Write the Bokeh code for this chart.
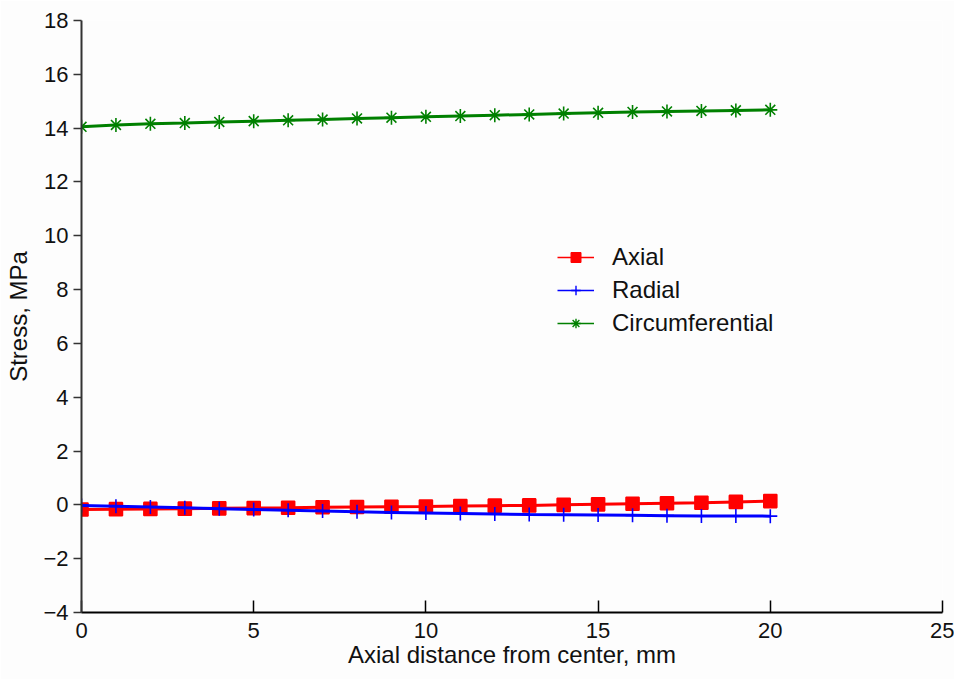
from bokeh.plotting import figure
from bokeh.models import Range1d, FixedTicker, Legend, LegendItem
from bokeh.embed import file_html
from bokeh.resources import INLINE

# Axial position along the specimen (mm)
distance_mm = [0, 1, 2, 3, 4, 5, 6, 7, 8, 9, 10, 11, 12, 13, 14, 15, 16, 17, 18, 19, 20]

# Stress components (MPa)
axial_stress = [-0.17, -0.16, -0.15, -0.14, -0.13, -0.12, -0.11, -0.09, -0.08, -0.07, -0.06,
                -0.04, -0.03, -0.02, 0.00, 0.02, 0.04, 0.06, 0.08, 0.11, 0.14]
radial_stress = [-0.02, -0.05, -0.08, -0.11, -0.14, -0.17, -0.20, -0.23, -0.26, -0.28, -0.30,
                 -0.32, -0.34, -0.36, -0.37, -0.38, -0.39, -0.40, -0.41, -0.41, -0.42]
circumferential_stress = [14.05, 14.12, 14.16, 14.19, 14.23, 14.26, 14.29, 14.32, 14.36, 14.39, 14.42,
                          14.45, 14.48, 14.51, 14.54, 14.57, 14.60, 14.62, 14.64, 14.66, 14.68]

x_ticks = [0, 5, 10, 15, 20, 25]
y_ticks = [-4, -2, 0, 2, 4, 6, 8, 10, 12, 14, 16, 18]

FONT = "Liberation Sans"
NAN = float("nan")

p = figure(width=954, height=679, output_backend="svg", toolbar_location=None,
           x_range=Range1d(0, 25), y_range=Range1d(-4, 18),
           min_border_left=81, min_border_right=12, min_border_top=20, min_border_bottom=67)
p.outline_line_color = None
p.xgrid.visible = False
p.ygrid.visible = False
p.background_fill_color = "#fdfdfd"
p.border_fill_color = "#fdfdfd"

# (label, values, colour, marker, marker size)
series = [
    ("Axial", axial_stress, "#ff0000", "square", 13),
    ("Radial", radial_stress, "#0000ff", "cross", 14),
    ("Circumferential", circumferential_stress, "#008000", "asterisk", 14),
]

items = []
for label, ys, color, marker, size in series:
    p.line(distance_mm, ys, line_color=color, line_width=3)
    p.scatter(distance_mm, ys, marker=marker, size=size, fill_color=color,
              line_color=color, line_width=1.6)
    # off-canvas renderers used only as legend swatches, with a thinner line
    sw_line = p.line([NAN], [NAN], line_color=color, line_width=1.5)
    sw_mark = p.scatter([NAN], [NAN], marker=marker, size=size, fill_color=color,
                        line_color=color, line_width=1.4)
    items.append(LegendItem(label=label, renderers=[sw_line, sw_mark]))

legend = Legend(items=items, location=(476, 275), padding=0, margin=0, spacing=5,
                glyph_width=37, glyph_height=24, label_height=24, label_standoff=18,
                label_text_font=FONT, label_text_font_size="24px", label_text_color="#111111",
                border_line_color=None, background_fill_alpha=0)
p.add_layout(legend, "center")

for ax in (p.xaxis[0], p.yaxis[0]):
    ax.major_label_text_font = FONT
    ax.major_label_text_font_size = "22px"
    ax.major_label_text_color = "#111111"
    ax.axis_label_text_font = FONT
    ax.axis_label_text_font_size = "24px"
    ax.axis_label_text_font_style = "normal"
    ax.axis_label_text_color = "#111111"
    ax.minor_tick_line_color = None
    ax.axis_line_width = 2

p.xaxis.ticker = FixedTicker(ticks=x_ticks)
p.yaxis.ticker = FixedTicker(ticks=y_ticks)
p.yaxis.major_label_overrides = {t: ("\u2212" + str(-t) if t < 0 else str(t)) for t in y_ticks}

p.xaxis.axis_label = "Axial distance from center, mm"
p.yaxis.axis_label = "Stress, MPa"

p.xaxis.axis_line_color = "#000000"
p.xaxis.major_tick_line_color = "#000000"
p.xaxis.major_tick_in = 12
p.xaxis.major_tick_out = 0
p.xaxis.major_tick_line_width = 1.5
p.xaxis.major_label_standoff = 10
p.xaxis.axis_label_standoff = 0

p.yaxis.axis_line_color = "#333333"
p.yaxis.major_tick_line_color = "#333333"
p.yaxis.major_tick_in = 0
p.yaxis.major_tick_out = 8
p.yaxis.major_tick_line_width = 1.5
p.yaxis.major_label_standoff = 5
p.yaxis.axis_label_standoff = 8

open("out.html", "w").write(file_html(p, INLINE))
